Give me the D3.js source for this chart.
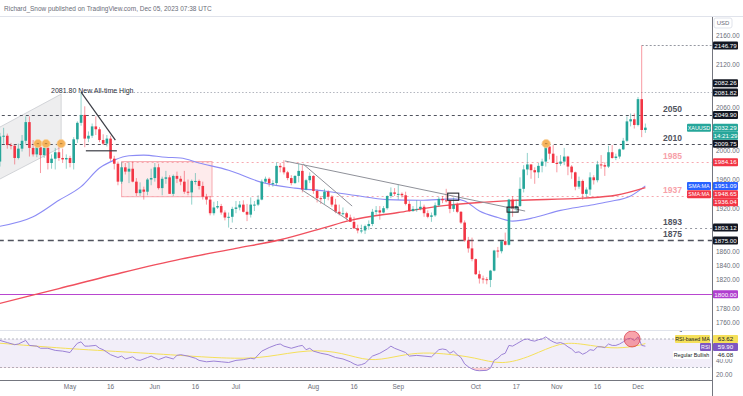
<!DOCTYPE html>
<html>
<head>
<meta charset="utf-8">
<script src="https://cdn.jsdelivr.net/npm/d3@7"></script>
<style>
body { margin: 0; background: #fff; }
svg { display: block; font-family: "Liberation Sans", Arial, sans-serif; }
</style>
</head>
<body>
<div id="chart"></div>
<script>
// daily XAUUSD candles, Apr 3 (bar 0) .. Dec 5 2023 (bar 176): open, high, low, close
var ohlc = [
	[1969,1990,1950,1985],[1985,2025,1978,2020],[2020,2032,2010,2021],[2021,2024,2003,2008],[2008,2011,2002,2007],
	[2007,2009,1981,1990],[1990,2010,1988,2003],[2003,2022,1999,2014],[2014,2048,2010,2040],[2040,2048,1992,2004],
	[2004,2015,1992,1995],[1995,2012,1991,2005],[2005,2008,1969,1994],[1994,2013,1990,2004],[2004,2006,1974,1983],
	[1983,1995,1975,1989],[1989,2004,1974,1998],[1998,2009,1986,1990],[1990,2003,1983,1988],[1988,1995,1975,1990],
	[1990,1993,1977,1983],[1983,2019,1974,2016],[2016,2041,2011,2039],[2039,2081.8,2035,2050],[2050,2062,2005,2017],
	[2017,2027,2012,2021],[2021,2038,2018,2034],[2034,2048,2022,2030],[2030,2033,2012,2015],[2015,2023,2008,2010],
	[2010,2022,2006,2017],[2017,2021,1986,1989],[1989,1993,1974,1982],[1982,1985,1952,1957],[1957,1984,1954,1977],
	[1977,1983,1967,1971],[1971,1984,1955,1975],[1975,1985,1956,1957],[1957,1962,1937,1941],[1941,1956,1937,1946],
	[1946,1950,1932,1943],[1943,1962,1938,1960],[1960,1975,1952,1962],[1962,1983,1957,1977],[1977,1982,1946,1948],
	[1948,1964,1938,1961],[1961,1972,1954,1963],[1963,1966,1940,1940],[1940,1967,1937,1965],[1965,1971,1955,1961],
	[1961,1965,1952,1957],[1957,1972,1940,1943],[1943,1960,1938,1942],[1942,1960,1925,1958],[1958,1969,1953,1958],
	[1958,1960,1946,1951],[1951,1957,1932,1936],[1936,1940,1925,1932],[1932,1937,1910,1913],[1913,1929,1910,1921],
	[1921,1930,1919,1923],[1923,1926,1911,1914],[1914,1917,1903,1907],[1907,1914,1893,1908],[1908,1922,1900,1919],
	[1919,1930,1913,1921],[1921,1930,1917,1925],[1925,1931,1914,1915],[1915,1926,1902,1911],[1911,1935,1907,1925],
	[1925,1930,1916,1925],[1925,1938,1923,1932],[1932,1960,1931,1957],[1957,1964,1955,1961],[1961,1963,1950,1955],
	[1955,1959,1950,1955],[1955,1984,1952,1979],[1979,1983,1970,1977],[1977,1987,1967,1970],[1970,1972,1959,1962],
	[1962,1966,1952,1955],[1955,1966,1954,1965],[1965,1982,1956,1972],[1972,1980,1942,1946],[1946,1961,1945,1959],
	[1959,1970,1955,1965],[1965,1966,1940,1944],[1944,1946,1928,1934],[1934,1937,1926,1933],[1933,1947,1926,1943],
	[1943,1945,1931,1936],[1936,1938,1922,1925],[1925,1933,1913,1915],[1915,1925,1910,1912],[1912,1921,1910,1913],
	[1913,1915,1903,1907],[1907,1911,1901,1901],[1901,1908,1891,1892],[1892,1897,1885,1889],[1889,1897,1885,1889],
	[1889,1897,1884,1895],[1895,1903,1890,1898],[1898,1919,1895,1915],[1915,1923,1911,1917],[1917,1923,1904,1914],
	[1914,1923,1913,1920],[1920,1938,1918,1937],[1937,1949,1934,1942],[1942,1948,1937,1940],[1940,1953,1932,1940],
	[1940,1942,1935,1938],[1938,1943,1924,1926],[1926,1930,1915,1916],[1916,1923,1915,1919],[1919,1931,1915,1919],
	[1919,1930,1917,1922],[1922,1925,1908,1913],[1913,1917,1906,1908],[1908,1914,1901,1910],[1910,1928,1908,1924],
	[1924,1936,1922,1933],[1933,1937,1927,1931],[1931,1947,1928,1930],[1930,1932,1913,1919],[1919,1935,1915,1925],
	[1925,1928,1913,1915],[1915,1916,1898,1900],[1900,1903,1873,1875],[1875,1880,1858,1864],[1864,1879,1846,1849],
	[1849,1850,1827,1828],[1828,1833,1815,1822],[1822,1826,1815,1821],[1821,1824,1814,1820],[1820,1834,1810,1833],
	[1833,1862,1832,1861],[1861,1866,1851,1860],[1860,1875,1857,1874],[1874,1886,1868,1869],[1869,1933,1868,1932],
	[1932,1937,1908,1919],[1919,1932,1915,1923],[1923,1963,1922,1947],[1947,1980,1942,1974],[1974,1997,1966,1981],
	[1981,1981,1961,1973],[1973,1977,1954,1970],[1970,1983,1962,1979],[1979,1989,1970,1985],[1985,2010,1978,2006],
	[2006,2009,1988,1996],[1996,2008,1983,1983],[1983,1993,1970,1982],[1982,1994,1979,1985],[1985,2004,1980,1992],
	[1992,1993,1966,1978],[1978,1980,1961,1970],[1970,1971,1945,1950],[1950,1964,1947,1958],[1958,1960,1932,1940],
	[1940,1949,1935,1946],[1946,1970,1938,1963],[1963,1966,1953,1959],[1959,1986,1956,1981],[1981,1994,1975,1980],
	[1980,1984,1965,1978],[1978,2007,1976,1998],[1998,2008,1989,1990],[1990,1996,1987,1992],[1992,2003,1989,2002],
	[2002,2018,2001,2014],[2014,2048,2012,2041],[2041,2052,2034,2044],[2044,2052,2031,2036],[2036,2075,2034,2072],
	[2072,2146.79,2019,2029],[2029,2038,2025,2032.29]
];

// moving averages: [bar, value]
var sma50 = [[0,1894],[10,1908],[17,1931],[23,1950],[28,1976],[32,1987],[36,1993],[40,1994],[46,1991],[50,1990],
	[55,1983],[63,1973],[72,1956],[81,1948],[89,1944],[97,1938],[106,1932],[115,1931],[124,1933],[127,1930],
	[131,1916],[136,1907],[140,1902],[146,1907],[153,1917],[161,1924],[166,1929],[172,1937],[176,1951.09]];
var sma200 = [[0,1786],[17,1808],[34,1830],[50,1849],[65,1864],[77,1876],[89,1893],[96,1903],[109,1914],
	[122,1924],[131,1928],[141,1931],[159,1934],[168,1938],[176,1948.65]];

// RSI(14) and its MA: [bar, value]
var rsi = [[0,66],[1,68],[3,65],[5,62],[6,63],[8,68],[9,61],[11,60],[12,57],[14,57],[16,54],[18,53],[20,51],
	[21,58],[22,64],[23,66],[24,60],[25,60],[27,61],[28,57],[29,55],[31,48],[33,44],[34,46],[35,42],[37,45],
	[38,41],[39,40],[41,44],[42,46],[44,41],[46,45],[48,42],[49,47],[50,48],[52,46],[54,43],[55,40],[57,38],
	[59,39],[61,38],[63,37],[65,40],[67,41],[69,43],[70,42],[72,53],[74,58],[76,62],[77,63],[78,60],[80,57],
	[82,60],[83,61],[84,55],[85,57],[86,53],[88,50],[90,48],[92,44],[94,42],[96,38],[97,35],[98,33],[99,34],
	[100,36],[102,46],[104,50],[106,56],[107,60],[108,57],[110,53],[111,51],[112,46],[114,47],[116,46],[118,45],
	[119,50],[120,55],[121,56],[122,55],[123,50],[124,53],[125,48],[126,44],[127,35],[128,31],[129,28],[130,26],
	[131,25.5],[133,26],[134,29],[135,40],[136,43],[137,48],[138,50],[139,61],[140,60],[141,63],[142,66],[143,69],
	[144,70],[145,68],[146,67],[147,69],[148,70],[149,73],[150,69],[151,66],[152,64],[153,65],[154,63],[155,59],
	[156,56],[157,51],[158,52],[159,48.6],[160,51],[161,55],[162,54],[163,59],[164,59],[165,58],[166,63],
	[167,61],[168,61],[169,63],[170,66],[171,70],[172,71],[173,68],[174,73],[175,61],[176,59.9]];
var rsiMa = [[0,64.5],[20,56],[40,50.5],[55,45],[65,42.4],[73,43.8],[85,56],[94,50.7],[101,38],[108,45],
	[114,51],[121,50],[130,44],[137,33],[145,45.6],[153,66],[159,63],[167,56],[173,59.4],[176,63.62]];

var levelValues = [2050, 2010, 1985, 1937, 1893, 1875];
var levelLabels = ["2050", "2010", "1985", "1937", "1893", "1875"];
var axisValues = [2146.79, 2082.26, 2081.82, 2049.90, 2032.29, 2009.75, 1984.16, 1951.09, 1948.65, 1936.04, 1893.12, 1875.00, 1800.00];
var priceTicks = d3.range(1760, 2161, 20);
var rsiTicks = [20, 40];
var timeTicks = [["May",20],["16",31],["Jun",43],["16",54],["Jul",65],["Aug",86],["16",97],["Sep",109],["Oct",130],["17",141],["Nov",152],["16",163],["Dec",174]];

var W = 743, H = 396, paneR = 712;

var svg = d3.select("#chart").append("svg")
	.attr("width", W)
	.attr("height", H);

var x = d3.scaleLinear().domain([20, 174]).range([70, 638]);
var y = d3.scaleLinear().domain([1760, 2160]).range([323, 36]);
var yr = d3.scaleLinear().domain([30, 70]).range([367.5, 339]);

var up = "#26a69a", down = "#f23645";
var fmt = d3.format(".2f");

// header
svg.append("text")
	.attr("x", 4).attr("y", 11)
	.attr("font-size", 6.5).attr("fill", "#6a6d78")
	.text("Richard_Snow published on TradingView.com, Dec 05, 2023 07:38 UTC");
svg.append("line").attr("x1", 0).attr("x2", W).attr("y1", 16.5).attr("y2", 16.5).attr("stroke", "#e0e3eb");

var defs = svg.append("defs");
defs.append("clipPath").attr("id", "main").append("rect").attr("x", 0).attr("y", 17).attr("width", paneR).attr("height", 313);
defs.append("clipPath").attr("id", "osc").append("rect").attr("x", 0).attr("y", 331).attr("width", paneR).attr("height", 49);
defs.append("clipPath").attr("id", "oscLab").append("rect").attr("x", 0).attr("y", 331).attr("width", W).attr("height", 49);
defs.append("clipPath").attr("id", "below30").append("rect").attr("x", 0).attr("y", yr(30)).attr("width", paneR).attr("height", 20);

var main = svg.append("g").attr("clip-path", "url(#main)");

// left parallel channel
var chTop = [[-3, 2022], [17.6, 2079]], chBot = [[17.6, 2005], [-3, 1950]];
main.append("polygon")
	.attr("points", chTop.concat(chBot).map(function(d) { return [x(d[0]), y(d[1])].join(','); }).join(' '))
	.attr("fill", "#787b86").attr("fill-opacity", 0.13)
	.attr("stroke", "#c9cbd1").attr("stroke-width", 0.8);

// range box
main.append("rect")
	.attr("x", x(34)).attr("y", y(1985))
	.attr("width", x(58.5) - x(34)).attr("height", y(1936) - y(1985))
	.attr("fill", "#f23645").attr("fill-opacity", 0.1)
	.attr("stroke", "#f7a9b0").attr("stroke-width", 1);

// horizontal levels
function hline(v, from, color, dash, w) {
	main.append("line")
		.attr("x1", x(from)).attr("x2", paneR)
		.attr("y1", Math.round(y(v)) + 0.5).attr("y2", Math.round(y(v)) + 0.5)
		.attr("stroke", color).attr("stroke-width", w || 1)
		.attr("stroke-dasharray", dash);
}
hline(2146.79, 175, "#9598a1", "2,2");
hline(2081.82, 23, "#b2b5be", "1.5,2");
hline(levelValues[0], -5, "#50535e", "3,3");
hline(levelValues[1], -5, "#50535e", "3,3");
hline(levelValues[2], 34, "#f7a9b0", "2,3", 1.2);
hline(levelValues[3], 34, "#f7a9b0", "2,3", 1.2);
hline(levelValues[4], 63.4, "#9598a1", "2,3", 1.2);
hline(levelValues[5], -5, "#50535e", "6,4", 1.6);
hline(1800, -5, "#b846d0", null, 1.2);

// level labels
levelValues.forEach(function(v, k) {
	var pink = (v === 1985 || v === 1937);
	main.append("text")
		.attr("x", 663).attr("y", y(v) - 3)
		.attr("font-size", 8.5).attr("font-weight", "bold")
		.attr("fill", pink ? "#f7a1a9" : "#50535e")
		.text(levelLabels[k]);
});

// moving averages
var maLine = d3.line()
	.x(function(d) { return x(d[0]); })
	.y(function(d) { return y(d[1]); })
	.curve(d3.curveMonotoneX);
main.append("path").datum(sma50).attr("d", maLine)
	.attr("fill", "none").attr("stroke", "#8c8cf5").attr("stroke-width", 1.1);
main.append("path").datum(sma200).attr("d", maLine)
	.attr("fill", "none").attr("stroke", "#f0505e").attr("stroke-width", 1.4);

// candles
var bw = 2.6;
var candles = main.selectAll(".candle").data(ohlc).enter().append("g");
candles.append("line")
	.attr("x1", function(d, i) { return x(i); })
	.attr("x2", function(d, i) { return x(i); })
	.attr("y1", function(d) { return y(d[1]); })
	.attr("y2", function(d) { return y(d[2]); })
	.attr("stroke", function(d) { return d[3] >= d[0] ? up : down; })
	.attr("stroke-opacity", 0.5)
	.attr("stroke-width", 1);
candles.append("rect")
	.attr("x", function(d, i) { return x(i) - bw / 2; })
	.attr("y", function(d) { return y(Math.max(d[0], d[3])); })
	.attr("width", bw)
	.attr("height", function(d) { return Math.max(1, Math.abs(y(d[0]) - y(d[3]))); })
	.attr("fill", function(d) { return d[3] >= d[0] ? up : down; });

// trend lines
function seg(a, b, color, w) {
	main.append("line")
		.attr("x1", x(a[0])).attr("y1", y(a[1]))
		.attr("x2", x(b[0])).attr("y2", y(b[1]))
		.attr("stroke", color).attr("stroke-width", w);
}
seg([23, 2081.8], [32.3, 2015], "#3b3d45", 1.2);
seg([24.3, 2000], [32.7, 2000], "#3b3d45", 1.2);
seg([78.3, 1985.8], [143.4, 1916], "#8f9199", 1);
seg([83.2, 1981.6], [96.5, 1923], "#8f9199", 1);
seg([82.9, 1945.4], [95.4, 1903.6], "#8f9199", 1);

function box(i0, i1, p0, p1) {
	main.append("rect")
		.attr("x", x(i0)).attr("y", y(p1))
		.attr("width", x(i1) - x(i0)).attr("height", y(p0) - y(p1))
		.attr("fill", "none").attr("stroke", "#26272c").attr("stroke-width", 1.1);
}
box(122.4, 125.4, 1931, 1941);
box(138.5, 141.5, 1914.5, 1921.5);

// touch markers
[[11.3, 2010], [13.5, 2010], [17.6, 2010], [149.1, 2010]].forEach(function(d) {
	main.append("circle")
		.attr("cx", x(d[0])).attr("cy", y(d[1])).attr("r", 4.2)
		.attr("fill", "#f6b45c").attr("stroke", "#f9d3a0").attr("stroke-width", 0.8);
	main.append("line")
		.attr("x1", x(d[0]) - 1.2).attr("x2", x(d[0]) + 1.2)
		.attr("y1", y(d[1])).attr("y2", y(d[1]))
		.attr("stroke", "#8a5a20").attr("stroke-width", 0.6);
});

// ATH annotation
main.append("text")
	.attr("x", 51).attr("y", y(2081.82) + 1)
	.attr("font-size", 7).attr("fill", "#2a2e39")
	.text("2081.80  New All-time High");

// pane separators and axis line
svg.append("line").attr("x1", 0).attr("x2", paneR).attr("y1", 330.5).attr("y2", 330.5).attr("stroke", "#e0e3eb");
svg.append("line").attr("x1", 0).attr("x2", paneR).attr("y1", 380.5).attr("y2", 380.5).attr("stroke", "#50535e").attr("stroke-width", 0.8);
svg.append("line").attr("x1", paneR + 0.5).attr("x2", paneR + 0.5).attr("y1", 17).attr("y2", H).attr("stroke", "#50535e").attr("stroke-width", 0.8);

// RSI pane
var osc = svg.append("g").attr("clip-path", "url(#osc)");
osc.append("rect")
	.attr("x", 0).attr("y", yr(70)).attr("width", paneR).attr("height", yr(30) - yr(70))
	.attr("fill", "#7e57c2").attr("fill-opacity", 0.1);
[70, 30].forEach(function(v) {
	osc.append("line")
		.attr("x1", 0).attr("x2", paneR)
		.attr("y1", yr(v)).attr("y2", yr(v))
		.attr("stroke", "#b2b5be").attr("stroke-dasharray", "2,2");
});
osc.append("path").datum(rsi)
	.attr("clip-path", "url(#below30)")
	.attr("d", d3.area()
		.x(function(d) { return x(d[0]); })
		.y0(yr(30))
		.y1(function(d) { return yr(d[1]); }))
	.attr("fill", "#f23645").attr("fill-opacity", 0.25);
osc.append("path").datum(rsiMa)
	.attr("d", d3.line().x(function(d) { return x(d[0]); }).y(function(d) { return yr(d[1]); }).curve(d3.curveBasis))
	.attr("fill", "none").attr("stroke", "#f5e05a").attr("stroke-width", 1);
osc.append("path").datum(rsi)
	.attr("d", d3.line().x(function(d) { return x(d[0]); }).y(function(d) { return yr(d[1]); }))
	.attr("fill", "none").attr("stroke", "#9c82d6").attr("stroke-width", 1);
osc.append("circle")
	.attr("cx", x(172.4)).attr("cy", yr(70)).attr("r", 8)
	.attr("fill", "#f23645").attr("fill-opacity", 0.45)
	.attr("stroke", "#d94a58").attr("stroke-width", 0.8);

// price labels on the axis (positions after TradingView's stacking)
var labelColor = ["#131722", "#131722", "#131722", "#131722", up, "#131722", down, "#2962ff", down, down, "#131722", "#131722", "#b03fcf"];
var labelShift = [0, -8.5, 0.5, 0, 0, 0, 0, 0, 6.5, 5.5, 0, 0, 0];
var tagY = axisValues.map(function(v, k) { return y(v) + labelShift[k]; }).concat([y(2032.29) + 8]);

// price axis tick labels (hidden where a price tag sits)
var shownTicks = priceTicks.filter(function(t) {
	return !tagY.some(function(ty) { return Math.abs(ty - y(t)) < 5.8; });
});
svg.selectAll(".ptick").data(shownTicks).enter().append("text")
	.attr("x", 716).attr("y", function(d) { return y(d) + 2.3; })
	.attr("font-size", 6.5).attr("fill", "#6a6d78")
	.text(function(d) { return fmt(d); });
svg.selectAll(".rtick").data(rsiTicks).enter().append("text")
	.attr("x", 716).attr("y", function(d) { return yr(d) + 2.8; })
	.attr("font-size", 6.5).attr("fill", "#6a6d78")
	.text(function(d) { return fmt(d); });

svg.append("rect").attr("x", 714).attr("y", 18).attr("width", 18).attr("height", 10)
	.attr("fill", "#fff").attr("stroke", "#e0e3eb").attr("rx", 2);
svg.append("text").attr("x", 723).attr("y", 25.3).attr("text-anchor", "middle")
	.attr("font-size", 6).attr("fill", "#6a6d78").text("USD");

function tag(g, cx, cy, w, bg, txt, fg, fs) {
	g.append("rect").attr("x", cx).attr("y", cy - 4).attr("width", w).attr("height", 8)
		.attr("fill", bg).attr("rx", 1);
	g.append("text").attr("x", cx + w / 2).attr("y", cy + 2.2).attr("text-anchor", "middle")
		.attr("font-size", fs || 6.2).attr("fill", fg || "#fff").text(txt);
}
axisValues.forEach(function(v, k) {
	tag(svg, 713, tagY[k], 25, labelColor[k], fmt(v));
});
tag(svg, 713, tagY[tagY.length - 1], 25, up, "14:21:29");
tag(svg, 687, y(2032.29), 24, up, "XAUUSD", null, 5.4);
tag(svg, 687, y(1951.09), 24, "#2962ff", "SMA:MA", null, 5.4);
tag(svg, 687, y(1948.65) + 6.5, 24, down, "SMA:MA", null, 5.4);

// RSI labels
var oscLab = svg.append("g").attr("clip-path", "url(#oscLab)");
tag(oscLab, 673, 329, 37, "#fff", "Regular Bearish", "#131722", 5.3);
tag(oscLab, 713, 329, 25, "#fff", "72.77", "#131722");
tag(oscLab, 675, 339, 35, "#f5e05a", "RSI-based MA", "#131722", 5.3);
tag(oscLab, 713, 339, 25, "#f5e05a", "63.62", "#131722");
tag(oscLab, 700, 347, 11, "#7e57c2", "RSI", null, 5.3);
tag(oscLab, 713, 347, 25, "#7e57c2", "59.90");
tag(oscLab, 673, 355, 37, "#fff", "Regular Bullish", "#131722", 5.3);
tag(oscLab, 713, 355, 25, "#fff", "46.08", "#131722");

// time axis
svg.selectAll(".ttick").data(timeTicks).enter().append("text")
	.attr("x", function(d) { return x(d[1]); })
	.attr("y", 389)
	.attr("text-anchor", "middle")
	.attr("font-size", 6.5).attr("fill", "#6a6d78")
	.text(function(d) { return d[0]; });
</script>
</body>
</html>
